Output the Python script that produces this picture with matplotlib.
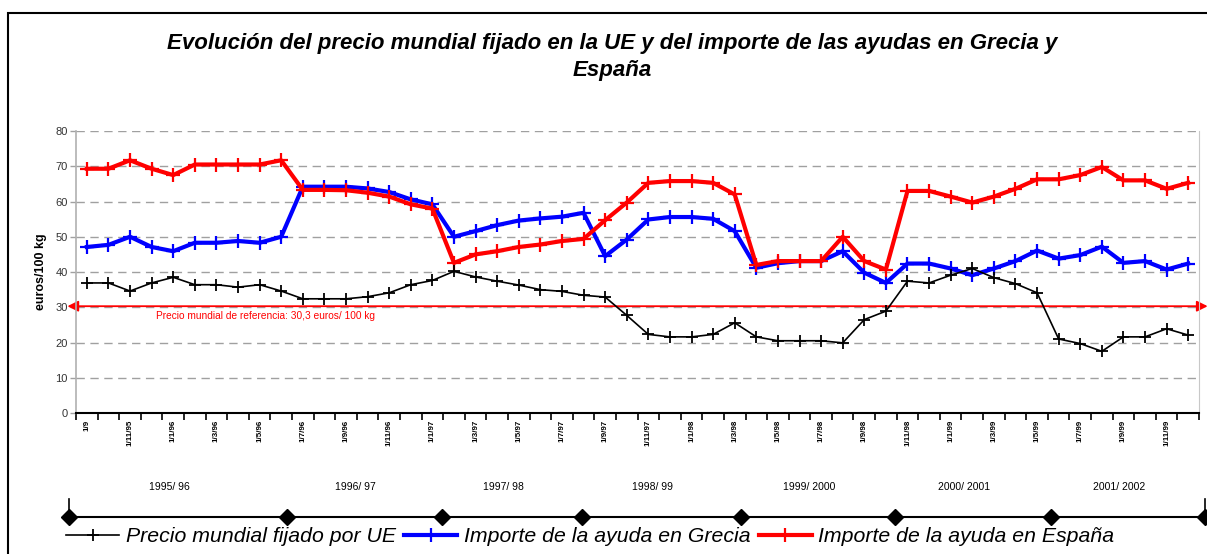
import matplotlib
matplotlib.use("Agg")
import matplotlib.pyplot as plt
from matplotlib.patches import Rectangle
import matplotlib.transforms as mtransforms

plt.rcParams['font.family'] = ['Liberation Sans', 'DejaVu Sans']

# --- data ---
precio_mundial = [36.9, 36.9, 34.6, 36.9, 38.5, 36.4, 36.4, 35.7, 36.4, 34.6,
                  32.4, 32.4, 32.4, 33.0, 34.1, 36.4, 37.6, 40.2, 38.6, 37.4,
                  36.3, 35.0, 34.5, 33.4, 32.9, 27.7, 22.3, 21.6, 21.6, 22.3,
                  25.6, 21.6, 20.5, 20.5, 20.5, 19.9, 26.5, 28.9, 37.4, 36.9,
                  39.1, 41.0, 38.4, 36.7, 34.1, 21.0, 19.7, 17.5, 21.6, 21.6,
                  23.9, 22.1]
ayuda_grecia = [47.1, 47.7, 50.0, 47.1, 45.9, 48.3, 48.3, 48.8, 48.3, 50.0,
                64.2, 64.2, 64.2, 63.7, 62.7, 60.6, 59.2, 50.0, 51.6, 53.3,
                54.6, 55.2, 55.7, 56.8, 44.5, 49.2, 54.9, 55.6, 55.6, 55.1,
                51.6, 41.2, 42.5, 43.1, 43.1, 45.9, 39.8, 36.9, 42.4, 42.4,
                41.0, 39.1, 41.0, 43.1, 46.1, 43.8, 44.8, 47.2, 42.6, 43.1,
                40.7, 42.4]
ayuda_espana = [69.3, 69.3, 71.7, 69.3, 67.5, 70.5, 70.5, 70.5, 70.5, 71.7,
                63.3, 63.3, 63.2, 62.5, 61.4, 59.2, 58.0, 42.6, 45.0, 45.9,
                47.1, 47.8, 48.8, 49.4, 54.7, 59.7, 65.3, 65.8, 65.8, 65.3,
                62.0, 42.0, 43.1, 43.1, 43.1, 50.0, 43.1, 40.7, 63.0, 63.0,
                61.4, 59.7, 61.4, 63.6, 66.3, 66.3, 67.5, 69.8, 66.0, 66.0,
                63.6, 65.3]
precio_referencia = 30.3

tick_labels = ["1/9", "1/11/95", "1/1/96", "1/3/96", "1/5/96", "1/7/96",
               "1/9/96", "1/11/96", "1/1/97", "1/3/97", "1/5/97", "1/7/97",
               "1/9/97", "1/11/97", "1/1/98", "1/3/98", "1/5/98", "1/7/98",
               "1/9/98", "1/11/98", "1/1/99", "1/3/99", "1/5/99", "1/7/99",
               "1/9/99", "1/11/99"]

campanas = ["1995/ 96", "1996/ 97", "1997/ 98", "1998/ 99",
            "1999/ 2000", "2000/ 2001", "2001/ 2002"]
limites_campana = [-0.82, 9.27, 16.44, 22.93, 30.29, 37.4, 44.64, 51.77]

x = list(range(len(precio_mundial)))

fig = plt.figure(figsize=(12.07, 5.54), dpi=100)
ax = fig.add_axes([0.063, 0.2545, 0.9304, 0.509])

ax.plot(x, ayuda_grecia, color="#0000ff", lw=3.0, marker="+", ms=10, mew=1.6,
        label="Importe de la ayuda en Grecia", zorder=3)
ax.plot(x, ayuda_espana, color="#ff0000", lw=3.0, marker="+", ms=10, mew=1.6,
        label="Importe de la ayuda en España", zorder=4)
ax.plot(x, precio_mundial, color="black", lw=1.2, marker="+", ms=9, mew=1.3,
        label="Precio mundial fijado por UE", zorder=5)

# reference line with arrows at both ends
ax.annotate("", xy=(-0.9, precio_referencia), xytext=(51.9, precio_referencia),
            arrowprops=dict(arrowstyle="<|-|>", color="#ff0000", lw=1.3,
                            mutation_scale=16, shrinkA=0, shrinkB=0),
            annotation_clip=False, zorder=2)
ax.text(3.2, precio_referencia - 1.5,
        "Precio mundial de referencia: 30,3 euros/ 100 kg",
        color="#ff0000", fontsize=7.3, va="top", ha="left")

ax.set_xlim(-0.5, len(x) - 0.5)
ax.set_ylim(0, 80)
ax.set_yticks(range(0, 81, 10))
ax.tick_params(axis="y", labelsize=8, colors="#333333", length=4, width=1,
               color="#a0a0a0", pad=2)
ax.yaxis.grid(True, color="#a0a0a0", ls=(0, (6, 4)), lw=1)
ax.set_axisbelow(True)

ax.set_xticks(x[::2])
ax.set_xticklabels(tick_labels, rotation=90, fontsize=5.8, fontweight="bold",
                   va="top")
ax.set_xticks([i - 0.5 for i in range(len(x) + 1)], minor=True)
ax.tick_params(axis="x", which="major", length=0, pad=5)
ax.tick_params(axis="x", which="minor", length=5, width=1.2, color="black")

ax.spines["top"].set_visible(False)
ax.spines["left"].set_color("#b0b0b0")
ax.spines["left"].set_linewidth(1.2)
ax.spines["right"].set_color("#c8c8c8")
ax.spines["bottom"].set_color("black")
ax.spines["bottom"].set_linewidth(1.5)

ax.set_ylabel("euros/100 kg", fontsize=9, fontweight="bold", labelpad=6)

# campaign timeline below axis
trans = mtransforms.blended_transform_factory(ax.transData, fig.transFigure)
y_line = 0.0668
ax.plot([limites_campana[0], limites_campana[-1]], [y_line, y_line],
        color="black", lw=1.5, transform=trans, clip_on=False)
ax.plot(limites_campana, [y_line] * len(limites_campana), ls="none",
        marker="D", ms=8, color="black", transform=trans, clip_on=False)
for xe in (limites_campana[0], limites_campana[-1]):
    ax.plot([xe, xe], [y_line, y_line + 0.032], color="black", lw=1.2,
            transform=trans, clip_on=False)
for i, nombre in enumerate(campanas):
    xm = (limites_campana[i] + limites_campana[i + 1]) / 2 - 0.4
    ax.text(xm, 0.121, nombre, transform=trans, ha="center", va="center",
            fontsize=7.5)

titulo_kw = dict(ha="center", va="center", fontsize=16, fontweight="bold",
                 style="italic")
fig.text(0.507, 0.922,
         "Evolución del precio mundial fijado en la UE y del importe de las ayudas en Grecia y",
         **titulo_kw)
fig.text(0.507, 0.873, "España", **titulo_kw)

handles, labels = ax.get_legend_handles_labels()
order = [2, 0, 1]
fig.legend([handles[i] for i in order], [labels[i] for i in order],
           loc="center", bbox_to_anchor=(0.489, 0.031), ncol=3, frameon=False,
           prop={"style": "italic", "size": 15.3}, handlelength=2.5,
           handletextpad=0.3, columnspacing=0.4, borderaxespad=0)

# chart frame
fig.patches.append(Rectangle((0.0066, -0.2), 1.2, 0.9765 + 0.2,
                             transform=fig.transFigure, fill=False,
                             ec="black", lw=1.5))

fig.savefig("out.png", dpi=100)
